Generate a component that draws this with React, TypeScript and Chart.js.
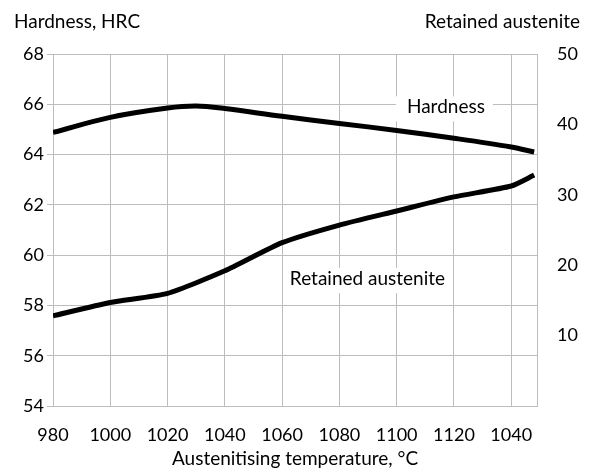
import React, { useEffect, useRef } from 'react';
import { Chart, registerables } from 'chart.js';
Chart.register(...registerables);

// Data
const hardnessTemps = [980, 1000, 1020, 1030, 1040, 1060, 1080, 1100, 1120, 1140, 1148];
const hardnessHRC = [64.88, 65.48, 65.85, 65.93, 65.83, 65.52, 65.24, 64.96, 64.65, 64.3, 64.1];
const austeniteTemps = [980, 1000, 1020, 1040, 1060, 1080, 1100, 1120, 1140, 1148];
const retainedAustenite = [12.8, 14.7, 16.0, 19.2, 23.2, 25.7, 27.7, 29.7, 31.25, 32.8];

const xTickValues = [980, 1000, 1020, 1040, 1060, 1080, 1100, 1120, 1140];
const xTickLabels = ['980', '1000', '1020', '1040', '1060', '1080', '1100', '1120', '1040'];
const rightTickValues = [10, 20, 30, 40, 50];

const FONT = 'Lato';
const GRID = '#bdbdbd';

const labelsPlugin = {
  id: 'labelsPlugin',
  beforeDatasetsDraw(chart: any) {
    const { ctx, scales } = chart;
    const x = scales.x;
    const y = scales.y;
    const items = [
      { text: 'Hardness', t: 1117.2, v: 65.64, padL: 11, padR: 8 },
      { text: 'Retained austenite', t: 1089.8, v: 58.81, padL: 5, padR: 7 },
    ];
    ctx.save();
    ctx.font = `19px ${FONT}`;
    ctx.textAlign = 'center';
    ctx.textBaseline = 'alphabetic';
    for (const it of items) {
      const px = x.getPixelForValue(it.t);
      const py = y.getPixelForValue(it.v);
      const w = ctx.measureText(it.text).width;
      ctx.fillStyle = '#fff';
      ctx.fillRect(px - w / 2 - it.padL, py - 17, w + it.padL + it.padR, 25);
      ctx.fillStyle = '#000';
      ctx.fillText(it.text, px, py);
    }
    ctx.restore();
  },
  afterDraw(chart: any) {
    const { ctx } = chart;
    ctx.save();
    ctx.font = `19px ${FONT}`;
    ctx.fillStyle = '#000';
    ctx.textBaseline = 'alphabetic';
    ctx.textAlign = 'left';
    ctx.fillText('Hardness, HRC', 14, 28);
    ctx.textAlign = 'right';
    ctx.fillText('Retained austenite', chart.width - 14, 28);
    ctx.restore();
  },
};

export default function App() {
  const ref = useRef<HTMLCanvasElement>(null);
  useEffect(() => {
    document.body.style.margin = '0';
    const chart = new Chart(ref.current!, {
      type: 'line',
      data: {
        datasets: [
          {
            label: 'Hardness',
            data: hardnessTemps.map((t, i) => ({ x: t, y: hardnessHRC[i] })),
            yAxisID: 'y',
            borderColor: '#000',
            borderWidth: 5,
            pointRadius: 0,
            tension: 0.35,
            borderJoinStyle: 'round',
          },
          {
            label: 'Retained austenite',
            data: austeniteTemps.map((t, i) => ({ x: t, y: retainedAustenite[i] })),
            yAxisID: 'y1',
            borderColor: '#000',
            borderWidth: 5,
            pointRadius: 0,
            tension: 0.2,
            borderJoinStyle: 'round',
          },
        ],
      },
      options: {
        animation: false,
        responsive: false,
        maintainAspectRatio: false,
        layout: { padding: { top: 54, left: 0, right: 0, bottom: 0 } },
        plugins: { legend: { display: false }, tooltip: { enabled: false } },
        scales: {
          x: {
            type: 'linear',
            min: 980,
            max: 1149,
            afterBuildTicks: (s: any) => {
              s.ticks = xTickValues.map((v) => ({ value: v }));
            },
            afterFit: (s: any) => {
              s.height = 64;
            },
            grid: { color: GRID, drawTicks: false },
            border: { color: GRID },
            ticks: {
              padding: 18,
              color: '#000',
              font: { family: FONT, size: 18 },
              maxRotation: 0,
              callback: (v: any) => {
                const i = xTickValues.indexOf(Number(v));
                return i >= 0 ? xTickLabels[i] : '';
              },
            },
            title: {
              display: true,
              text: 'Austenitising temperature, °C',
              color: '#000',
              font: { family: FONT, size: 19 },
              padding: { top: 0, bottom: 0 },
            },
          },
          y: {
            position: 'left',
            min: 54,
            max: 68,
            ticks: {
              stepSize: 2,
              color: '#000',
              padding: 3,
              font: { family: FONT, size: 18 },
            },
            afterFit: (s: any) => {
              s.width = 53;
            },
            grid: { color: GRID, tickLength: 6 },
            border: { color: GRID },
          },
          y1: {
            position: 'right',
            min: 0,
            max: 50,
            afterBuildTicks: (s: any) => {
              s.ticks = rightTickValues.map((v) => ({ value: v }));
            },
            afterFit: (s: any) => {
              s.width = 57;
            },
            ticks: {
              color: '#000',
              padding: 20,
              font: { family: FONT, size: 18 },
            },
            grid: { drawOnChartArea: false, drawTicks: false },
            border: { color: GRID },
          },
        },
      },
      plugins: [labelsPlugin],
    } as any);
    return () => chart.destroy();
  }, []);
  return (
    <div style={{ width: 594, height: 470 }}>
      <canvas ref={ref} width={594} height={470} style={{ display: 'block' }} />
    </div>
  );
}
